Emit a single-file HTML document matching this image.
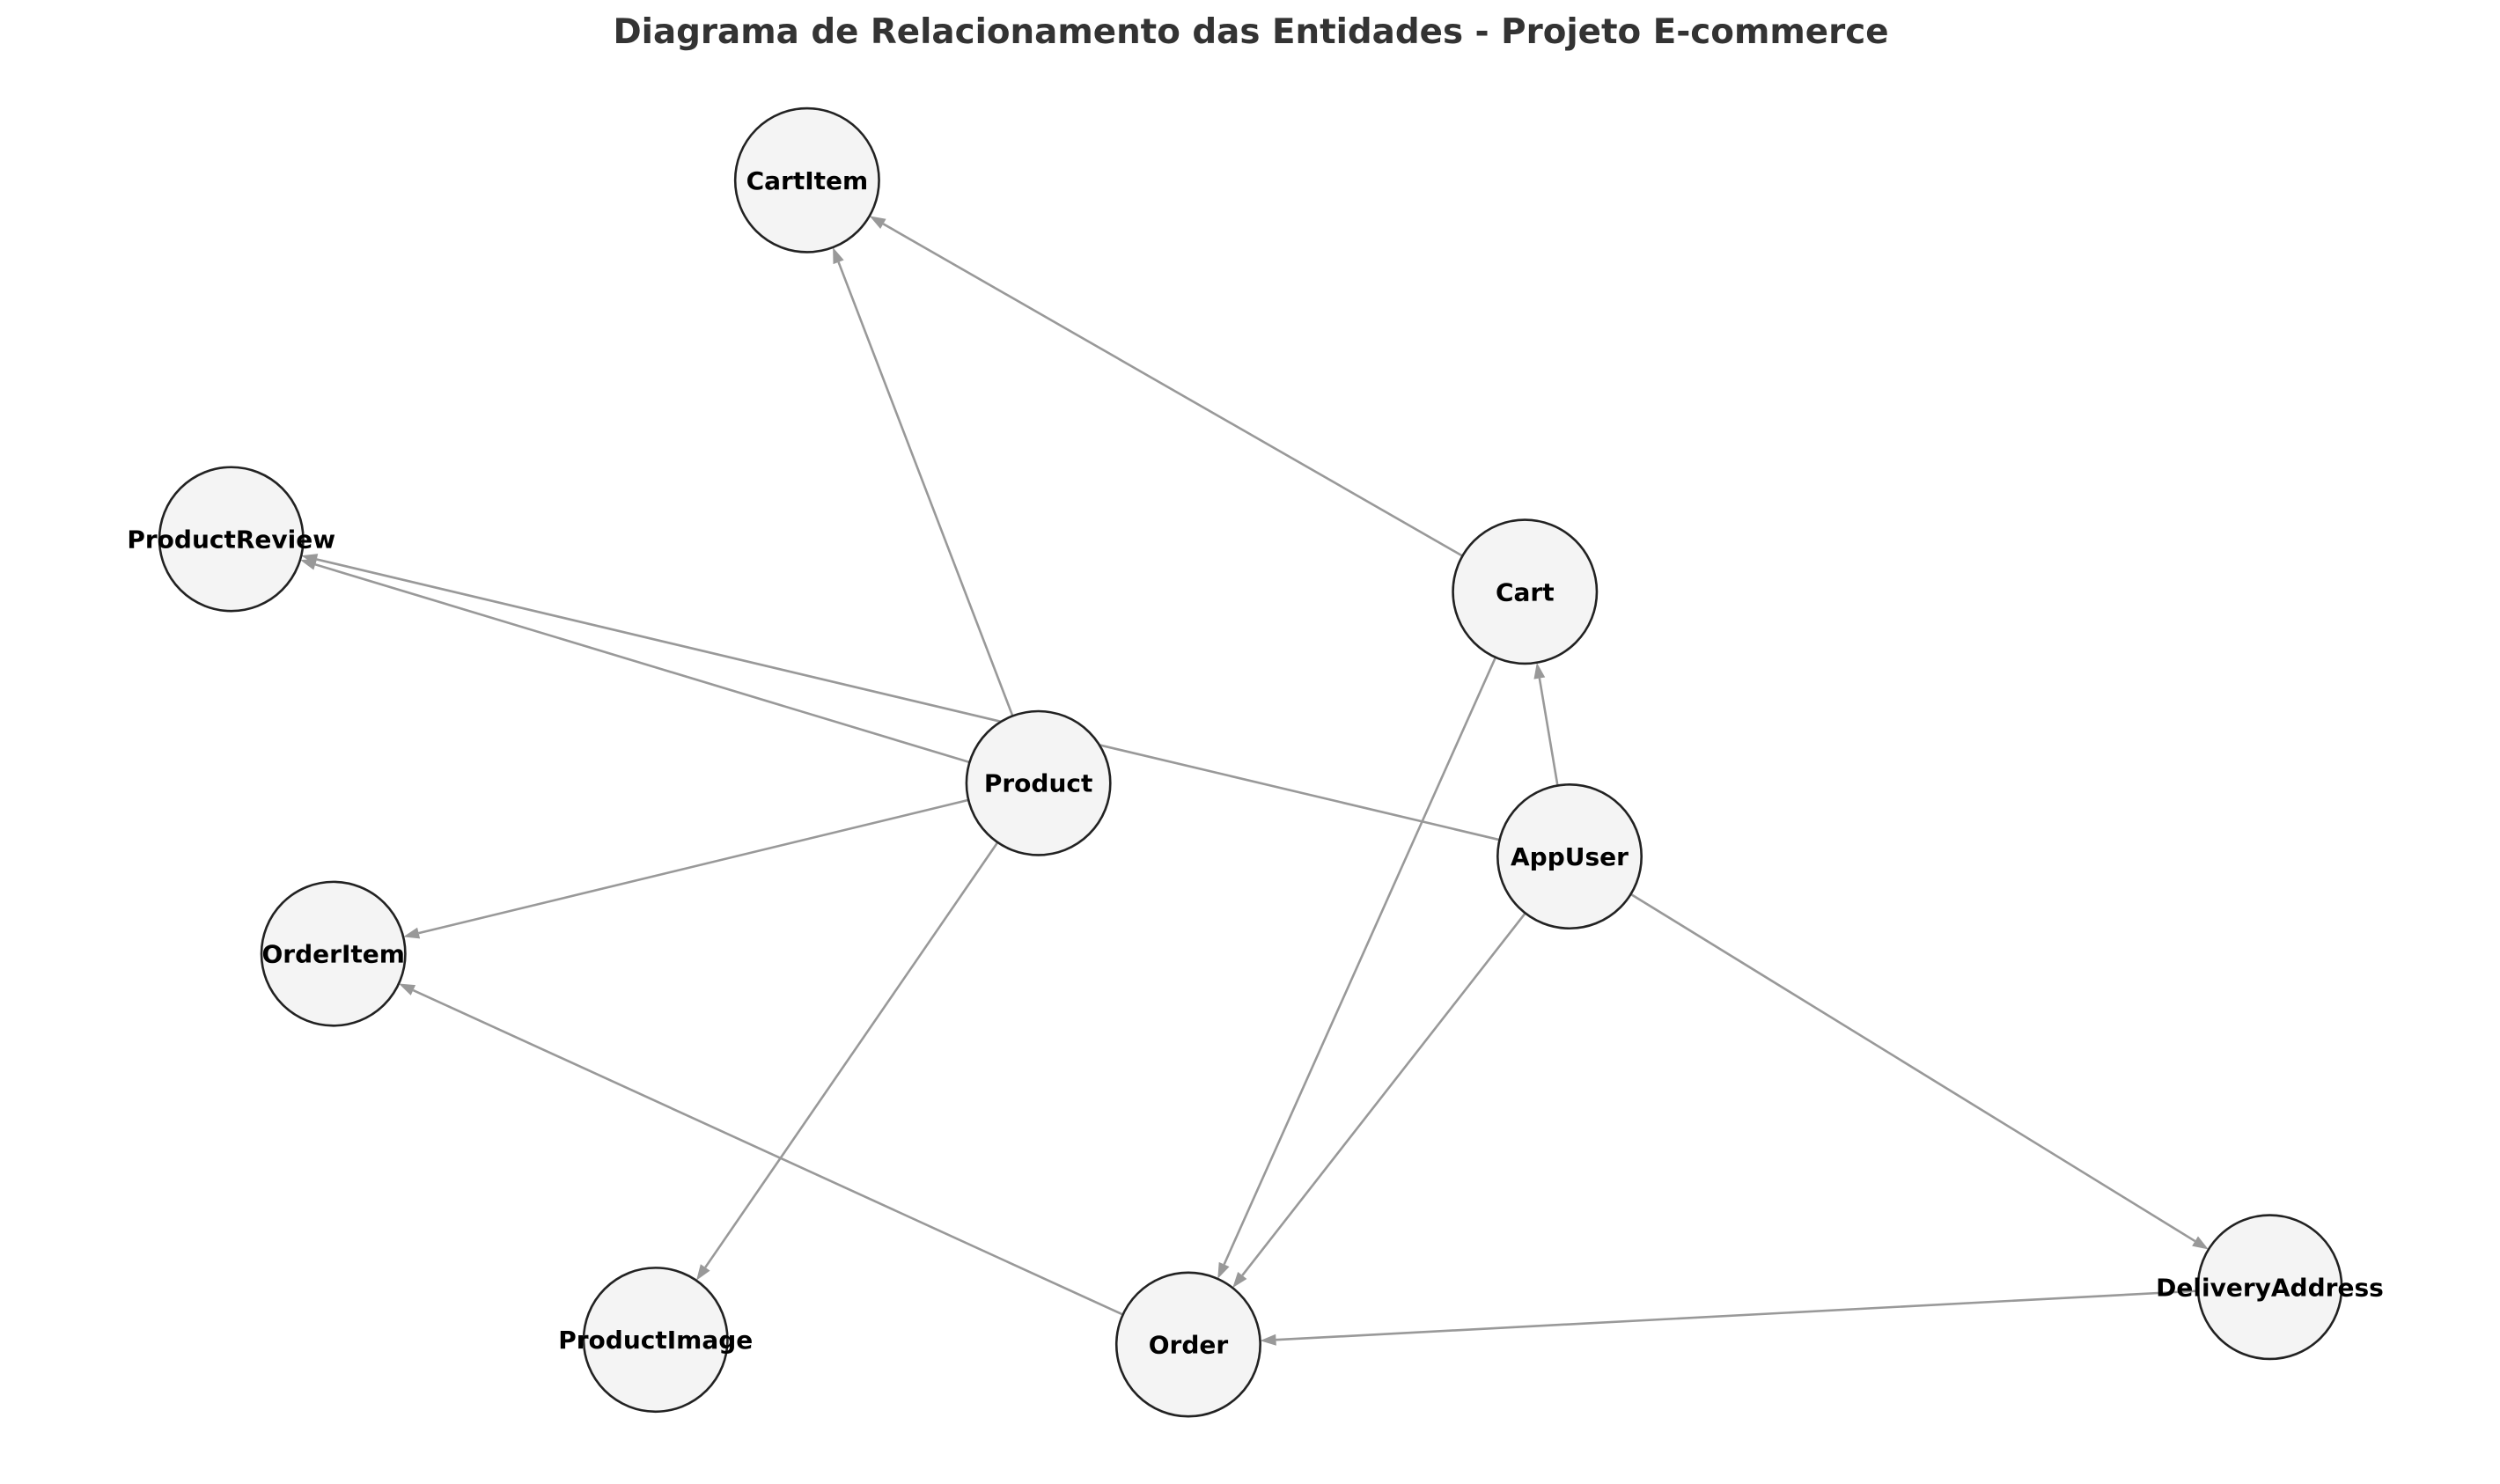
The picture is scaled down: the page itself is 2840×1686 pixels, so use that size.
<!DOCTYPE html>
<html><head><meta charset="utf-8"><style>
html,body{margin:0;padding:0;background:#fff;}
svg{display:block;}
</style></head><body>
<svg id="chart" width="2840" height="1686" viewBox="0 0 2840 1686" xmlns="http://www.w3.org/2000/svg">
<rect width="2840" height="1686" fill="#fff"/>
<text x="1421" y="49" text-anchor="middle" font-family="'DejaVu Sans','Liberation Sans',sans-serif" font-weight="bold" font-size="38.8" fill="#333">Diagrama de Relacionamento das Entidades - Projeto E-commerce</text>
<g id="edges"></g>
<g id="nodes"></g>
</svg>
<script>
const nodeNames = ["CartItem","ProductReview","Cart","Product","AppUser","OrderItem","ProductImage","Order","DeliveryAddress"];
const nodeX = [506,145,956,651,984,209,411,745,1423];
const nodeY = [113,338,371,491,537,598,840,843,807];
const edgeFrom = ["Product","Cart","Product","AppUser","AppUser","Cart","AppUser","AppUser","DeliveryAddress","Product","Order","Product"];
const edgeTo = ["CartItem","CartItem","ProductReview","ProductReview","Cart","Order","Order","DeliveryAddress","Order","OrderItem","OrderItem","ProductImage"];

const S = 1.812, R = 81.7, NS = "http://www.w3.org/2000/svg";
const sx = v => v * S, sy = v => v * S;
const eg = document.getElementById('edges'), ng = document.getElementById('nodes');
function pos(n){const i=nodeNames.indexOf(n);return [sx(nodeX[i]),sy(nodeY[i])];}
edgeFrom.forEach((f,k)=>{
  const [x1,y1]=pos(f),[x2,y2]=pos(edgeTo[k]);
  const dx=x2-x1,dy=y2-y1,L=Math.hypot(dx,dy),ux=dx/L,uy=dy/L;
  const ex=x2-ux*R,ey=y2-uy*R, al=18, aw=6.5;
  const bx=ex-ux*al,by=ey-uy*al;
  const line=document.createElementNS(NS,'line');
  line.setAttribute('x1',x1+ux*R);line.setAttribute('y1',y1+uy*R);
  line.setAttribute('x2',bx);line.setAttribute('y2',by);
  line.setAttribute('stroke','#999');line.setAttribute('stroke-width','2.6');
  
  
  eg.appendChild(line);
  const p=document.createElementNS(NS,'polygon');
  p.setAttribute('points',`${ex},${ey} ${bx-uy*aw},${by+ux*aw} ${bx+uy*aw},${by-ux*aw}`);
  p.setAttribute('fill','#999');
  
  
  eg.appendChild(p);
});
nodeNames.forEach((n,i)=>{
  const c=document.createElementNS(NS,'circle');
  c.setAttribute('cx',sx(nodeX[i]));c.setAttribute('cy',sy(nodeY[i]));c.setAttribute('r',R);
  c.setAttribute('fill','#f4f4f4');c.setAttribute('stroke','#222');c.setAttribute('stroke-width','2.6');
  
  
  ng.appendChild(c);
  const t=document.createElementNS(NS,'text');
  t.setAttribute('x',sx(nodeX[i]));t.setAttribute('y',sy(nodeY[i])+10);
  t.setAttribute('text-anchor','middle');
  t.setAttribute('font-family',"'DejaVu Sans','Liberation Sans',sans-serif");
  t.setAttribute('font-weight','bold');t.setAttribute('font-size','28');t.setAttribute('fill','#000');
  t.textContent=n;
  
  
  ng.appendChild(t);
});
</script>
</body></html>
